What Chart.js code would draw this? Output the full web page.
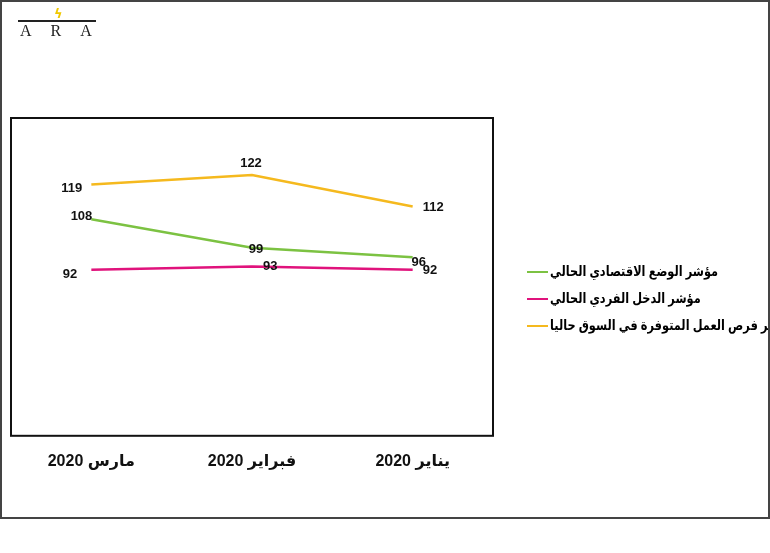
<!DOCTYPE html>
<html>
<head>
<meta charset="utf-8">
<script src="https://cdn.jsdelivr.net/npm/chart.js@4.4.1/dist/chart.umd.min.js"></script>
<style>
  html, body { margin: 0; padding: 0; background: #fff; }
  #wrap { position: relative; width: 770px; height: 553px; overflow: hidden; }
  #frame { position: absolute; left: 0; top: 0; width: 766px; height: 515px; border: 2px solid #444; }
  #chart { position: absolute; left: 0; top: 0; }
  #logo { position: absolute; left: 18px; top: 8px; width: 80px; height: 30px; }
  #logo .bar { position: absolute; left: 0; top: 12px; width: 78px; height: 2px; background: #222; }
  #logo .bolt { position: absolute; left: 36px; top: -2px; color: #f0c800; font: bold 13px 'DejaVu Sans', sans-serif; }
  #logo .txt { position: absolute; left: 2px; top: 14px; font: 16px 'Liberation Serif', serif; letter-spacing: 19px; color: #222; }
  #legend { position: absolute; left: 527px; top: 260px; width: 241px; overflow: hidden; font: bold 14px Arial, 'DejaVu Sans', sans-serif; }
  #legend .item { height: 27px; line-height: 22px; white-space: nowrap; }
  #legend .swatch { display: inline-block; width: 21px; height: 2px; vertical-align: middle; margin-right: 2px; }
  #legend .name { display: inline-block; transform: scaleX(0.81); transform-origin: left center; }
</style>
</head>
<body>
<div id="wrap">
  <canvas id="chart" width="770" height="553"></canvas>
  <div id="frame"></div>
  <div id="logo"><div class="bar"></div><div class="bolt">ϟ</div><div class="txt">ARA</div></div>
  <div id="legend"></div>
</div>
<script>
// months shown left to right (RTL order)
const months = ['مارس 2020', 'فبراير 2020', 'يناير 2020'];
const seriesNames = [
  'مؤشر الوضع الاقتصادي الحالي',
  'مؤشر الدخل الفردي الحالي',
  'مؤشر فرص العمل المتوفرة في السوق حاليا'
];
const economicSituation = [108, 99, 96];
const individualIncome = [92, 93, 92];
const jobOpportunities = [119, 122, 112];

const colors = ['#7cc242', '#e0137c', '#f5b91e'];
// label placement per point: [align, dx, dy]
const labelPos = [
  [['right', 1, -3], ['center', 4, 2], ['center', 6, 5]],
  [['right', -14, 5], ['left', 11, 0], ['left', 10, 1]],
  [['right', -9, 4], ['center', -1, -11], ['left', 10, 1]]
];

const labelPlugin = {
  id: 'pointLabels',
  afterDatasetsDraw(chart) {
    const ctx = chart.ctx;
    ctx.save();
    ctx.font = 'bold 13px Arial, "Liberation Sans", sans-serif';
    ctx.fillStyle = '#111';
    ctx.textBaseline = 'middle';
    chart.data.datasets.forEach((ds, i) => {
      const meta = chart.getDatasetMeta(i);
      meta.data.forEach((pt, j) => {
        const p = labelPos[i][j];
        ctx.textAlign = p[0];
        ctx.fillText(String(ds.data[j]), pt.x + p[1], pt.y + p[2]);
      });
    });
    ctx.restore();
  },
  afterDraw(chart) {
    const a = chart.chartArea, ctx = chart.ctx;
    ctx.save();
    ctx.strokeStyle = '#111';
    ctx.lineWidth = 2;
    ctx.strokeRect(a.left, a.top, a.right - a.left, a.bottom - a.top);
    ctx.restore();
  }
};

const data = [economicSituation, individualIncome, jobOpportunities];

const chart = new Chart(document.getElementById('chart'), {
  type: 'line',
  data: {
    labels: months,
    datasets: data.map((d, i) => ({
      label: seriesNames[i],
      data: d,
      borderColor: colors[i],
      backgroundColor: colors[i],
      borderWidth: 2.5,
      pointRadius: 0,
      tension: 0
    }))
  },
  options: {
    responsive: false,
    animation: false,
    layout: { padding: { left: 11, top: 118, right: 277, bottom: 66 } },
    plugins: { legend: { display: false }, tooltip: { enabled: false } },
    scales: {
      x: {
        offset: true,
        grid: { display: false, drawTicks: false },
        border: { display: false },
        ticks: {
          padding: 16,
          color: '#111',
          font: { family: 'Arial, "Liberation Sans", "DejaVu Sans", sans-serif', size: 16, weight: 'bold' }
        }
      },
      y: { display: false, min: 39.5, max: 140 }
    }
  },
  plugins: [labelPlugin]
});

// legend built from the datasets
const legend = document.getElementById('legend');
chart.data.datasets.forEach(ds => {
  const item = document.createElement('div');
  item.className = 'item';
  item.innerHTML = '<span class="swatch" style="background:' + ds.borderColor + '"></span>' +
    '<span class="name" dir="rtl">' + ds.label + '</span>';
  legend.appendChild(item);
});
</script>
</body>
</html>
